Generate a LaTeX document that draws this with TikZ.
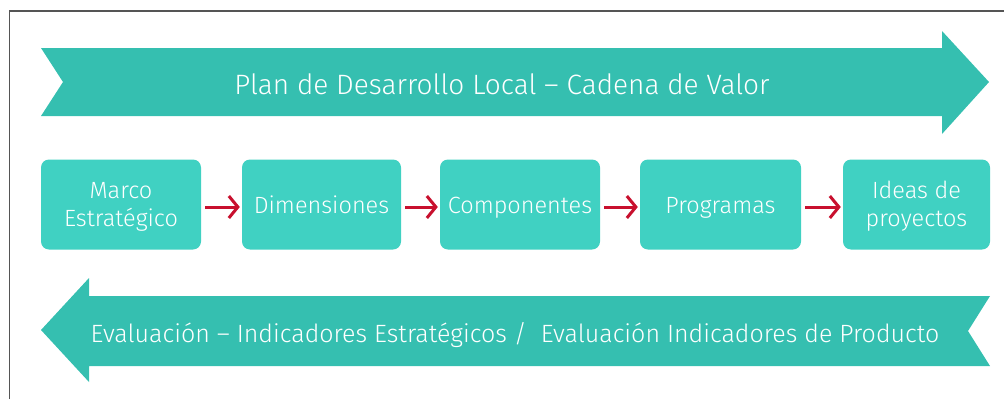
\documentclass[tikz,border=0pt]{standalone}
\usepackage{fontspec}
\setmainfont{Fira Sans Light}
\usetikzlibrary{arrows.meta}
\definecolor{band}{HTML}{35BFB0}
\definecolor{boxc}{HTML}{40D1C2}
\definecolor{redarr}{HTML}{C8102E}
\definecolor{framec}{HTML}{555555}
\begin{document}
\begin{tikzpicture}[x=1pt,y=-1pt,
  bandtext/.style={text=white, inner sep=0pt},
  stagebox/.style={fill=boxc, rounded corners=8pt, minimum height=90pt, text=white,
    align=center, inner sep=0pt, font=\fontsize{23.5}{28}\selectfont},
  oneline/.style={stagebox, text height=21pt, text depth=4pt},
  twoline/.style={stagebox, text height=49pt, text depth=6pt},
  link/.style={draw=redarr, line width=3pt, -{Straight Barb[length=9pt,width=22pt]}, shorten <=4pt, shorten >=2pt}]
\useasboundingbox (0,0) rectangle (1004,399);
\draw[framec, line width=1.5pt] (9.5,399) -- (9.5,11) -- (1004,11);
% top band arrow
\fill[band] (41,48) -- (942,48) -- (942,31) -- (989,82) -- (942,134) -- (942,116) -- (41,116) -- (63,82) -- cycle;
\node[bandtext, font=\fontsize{28}{32}\selectfont, anchor=base] (top) at (502,94) {Plan de Desarrollo Local – Cadena de Valor};
% bottom band arrow
\fill[band] (41,330) -- (89,278) -- (89,296) -- (990,296) -- (968,331) -- (990,366) -- (89,366) -- (89,382) -- cycle;
\node[bandtext, font=\fontsize{25}{30}\selectfont, anchor=base] (bottom) at (515,342) {Evaluación – Indicadores Estratégicos /\ \ Evaluación Indicadores de Producto};
% stage boxes
\node[twoline, minimum width=160pt] (b1) at (121,204.5) {Marco\\Estratégico};
\node[oneline, minimum width=159pt] (b2) at (321.5,204.5) {Dimensiones};
\node[oneline, minimum width=160pt] (b3) at (520,204.5) {Componentes};
\node[oneline, minimum width=161pt] (b4) at (720.5,204.5) {Programas};
\node[twoline, minimum width=147pt] (b5) at (916.5,204.5) {Ideas de\\proyectos};
\draw[link] (b1.east |- 0,207) -- (b2.west |- 0,207);
\draw[link] (b2.east |- 0,207) -- (b3.west |- 0,207);
\draw[link] (b3.east |- 0,207) -- (b4.west |- 0,207);
\draw[link] (b4.east |- 0,207) -- (b5.west |- 0,207);
\end{tikzpicture}
\end{document}
